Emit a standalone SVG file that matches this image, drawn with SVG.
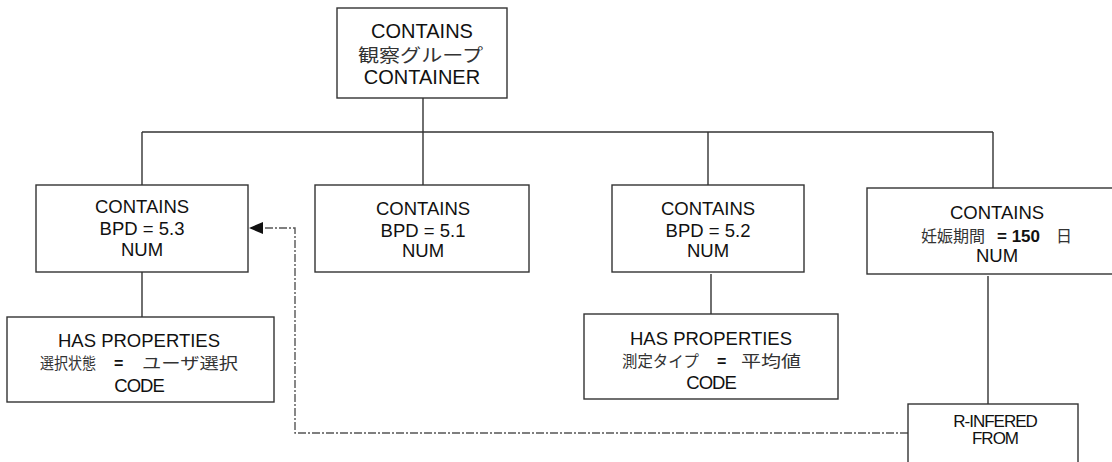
<svg xmlns="http://www.w3.org/2000/svg" width="1112" height="462" viewBox="0 0 1112 462">
<style>
.box{fill:#fff;stroke:#333;stroke-width:1.4}
.t{font-family:"Liberation Sans",Arial,sans-serif;font-size:18.5px;fill:#111;text-anchor:middle}
.s{font-family:"Liberation Sans",Arial,sans-serif;font-size:18.5px;fill:#111}
.j{font-family:"Noto Sans CJK JP",sans-serif;font-size:16px;fill:#333}
.c{letter-spacing:-1px}
.ln{fill:none;stroke:#333;stroke-width:1.4}
.dash{fill:none;stroke:#555;stroke-width:1.4;stroke-dasharray:8,2,2,2}
</style>
<defs>
<marker id="arr" markerWidth="14" markerHeight="12" refX="14" refY="6" orient="auto" markerUnits="userSpaceOnUse">
<path d="M0,0 L14,6 L0,12 Z" fill="#111"/>
</marker>
</defs>
<g id="connectors">
<path class="ln" d="M423,98 V132"/>
<path class="ln" d="M142,132 H993"/>
<path class="ln" d="M142,132 V185"/>
<path class="ln" d="M423,132 V185"/>
<path class="ln" d="M708,132 V185"/>
<path class="ln" d="M993,132 V188"/>
<path class="ln" d="M142,272 V317"/>
<path class="ln" d="M711,274 V314"/>
<path class="ln" d="M988,276 V404"/>
<path class="dash" d="M908,433 H295 V228 H249" marker-end="url(#arr)"/>
</g>
<g id="n-container">
<rect class="box" x="337" y="8" width="170" height="90"/>
<text class="t" x="422" y="38" style="font-size:20px">CONTAINS</text>
<text class="j" x="358" y="62" style="font-size:18px" textLength="125" lengthAdjust="spacingAndGlyphs">観察グループ</text>
<text class="t" x="422" y="84" style="font-size:20px">CONTAINER</text>
</g>
<g id="n-bpd53">
<rect class="box" x="36" y="185" width="212" height="87"/>
<text class="t" x="142" y="213">CONTAINS</text>
<text class="t" x="142" y="235">BPD = 5.3</text>
<text class="t" x="142" y="256">NUM</text>
</g>
<g id="n-bpd51">
<rect class="box" x="315" y="185" width="214" height="87"/>
<text class="t" x="423" y="215">CONTAINS</text>
<text class="t" x="423" y="237">BPD = 5.1</text>
<text class="t" x="423" y="257">NUM</text>
</g>
<g id="n-bpd52">
<rect class="box" x="612" y="185" width="192" height="87"/>
<text class="t" x="708" y="215">CONTAINS</text>
<text class="t" x="708" y="237">BPD = 5.2</text>
<text class="t" x="708" y="257">NUM</text>
</g>
<g id="n-gest">
<rect class="box" x="867" y="188" width="262" height="86"/>
<text class="t" x="997" y="219">CONTAINS</text>
<text class="j" x="921" y="242" textLength="64" lengthAdjust="spacingAndGlyphs">妊娠期間</text>
<text class="s" x="997" y="242" style="font-weight:bold;font-size:17px">= 150</text>
<text class="j" x="1056" y="242">日</text>
<text class="t" x="997" y="262">NUM</text>
</g>
<g id="n-prop1">
<rect class="box" x="7" y="317" width="267" height="85"/>
<text class="t" x="139" y="347">HAS PROPERTIES</text>
<text class="j" x="40" y="369" textLength="56" lengthAdjust="spacingAndGlyphs">選択状態</text>
<text class="s" x="114" y="369" style="font-weight:bold;font-size:16px">=</text>
<text class="j" x="142" y="369" textLength="96" lengthAdjust="spacingAndGlyphs">ユーザ選択</text>
<text class="t c" x="139" y="392">CODE</text>
</g>
<g id="n-prop2">
<rect class="box" x="584" y="314" width="254" height="85"/>
<text class="t" x="711" y="345">HAS PROPERTIES</text>
<text class="j" x="622" y="367" textLength="77" lengthAdjust="spacingAndGlyphs">測定タイプ</text>
<text class="s" x="717" y="367" style="font-weight:bold;font-size:16px">=</text>
<text class="j" x="741" y="367" textLength="60" lengthAdjust="spacingAndGlyphs">平均値</text>
<text class="t c" x="711" y="389">CODE</text>
</g>
<g id="n-inferred">
<rect class="box" x="908" y="404" width="170" height="70"/>
<text class="t c" x="995" y="427" style="font-size:17px">R-INFERED</text>
<text class="t c" x="995" y="444" style="font-size:17px">FROM</text>
</g>
</svg>
